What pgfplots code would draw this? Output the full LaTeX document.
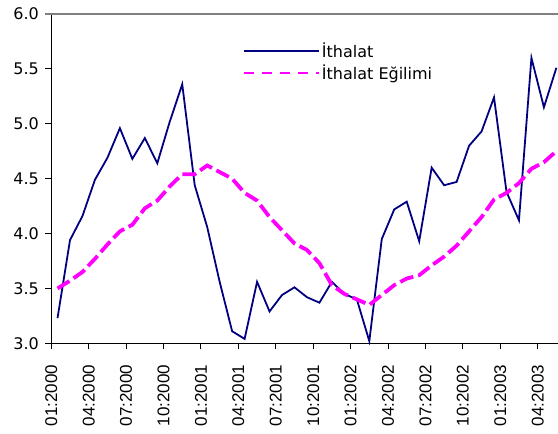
\documentclass[border=0pt]{standalone}
\usepackage{fontspec}
\setmainfont{DejaVu Sans}
\newfontfamily\arialfont{Liberation Sans}
\usepackage{pgfplots}
\pgfplotsset{compat=1.18}
\definecolor{importblue}{RGB}{0,0,128}
\definecolor{trendpink}{RGB}{255,0,255}
\begin{document}
\begin{tikzpicture}
\begin{axis}[
  scale only axis,
  width=506.7bp, height=329.3bp,
  xmin=-0.5, xmax=40.13, ymin=3, ymax=6,
  clip=false,
  axis x line*=bottom, axis y line*=left,
  axis line style={black, line width=1bp},
  xtick={-0.5,2.5,5.5,8.5,11.5,14.5,17.5,20.5,23.5,26.5,29.5,32.5,35.5,38.5},
  xticklabels={01:2000,04:2000,07:2000,10:2000,01:2001,04:2001,07:2001,10:2001,01:2002,04:2002,07:2002,10:2002,01:2003,04:2003},
  ytick={3.0,3.5,4.0,4.5,5.0,5.5,6.0},
  tick align=outside, major tick length=6bp,
  tick style={black, line width=1bp},
  yticklabel style={/pgf/number format/fixed, /pgf/number format/fixed zerofill,
    /pgf/number format/precision=1, /pgf/number format/assume math mode=true,
    font=\fontsize{16bp}{19bp}\selectfont, xshift=-3bp},
  xticklabel style={yshift=-12bp, rotate=90, anchor=east, font=\arialfont\fontsize{17bp}{20bp}\selectfont},
  legend style={at={(0.372,0.925)}, anchor=north west, draw=none, fill=none,
    font=\fontsize{16bp}{19bp}\selectfont, row sep=2bp,
    /tikz/every even column/.append style={column sep=7bp}},
  legend cell align=left,
  legend image code/.code={\draw[#1] (0bp,0bp) -- (75bp,0bp);},
]
% monthly imports
\addplot[importblue, line width=1.8bp] coordinates {
  (0,3.23) (1,3.94) (2,4.16) (3,4.49) (4,4.69) (5,4.96) (6,4.68) (7,4.87)
  (8,4.64) (9,5.02) (10,5.36) (11,4.44) (12,4.06) (13,3.56) (14,3.11) (15,3.04)
  (16,3.56) (17,3.29) (18,3.44) (19,3.51) (20,3.42) (21,3.37) (22,3.56) (23,3.45)
  (24,3.40) (25,3.02) (26,3.95) (27,4.22) (28,4.29) (29,3.93) (30,4.60) (31,4.44)
  (32,4.47) (33,4.80) (34,4.93) (35,5.24) (36,4.38) (37,4.12) (38,5.60) (39,5.15)
  (40,5.51)
};
\addlegendentry{İthalat}
% trend
\addplot[trendpink, line width=3.8bp, dash pattern=on 14bp off 5bp,
  legend image code/.code={\draw[trendpink, line width=2bp, dash pattern=on 10bp off 8bp] (0bp,0bp) -- (75bp,0bp);}]
  coordinates {
  (0,3.50) (1,3.57) (2,3.65) (3,3.77) (4,3.90) (5,4.02) (6,4.08) (7,4.23)
  (8,4.30) (9,4.43) (10,4.54) (11,4.54) (12,4.62) (13,4.56) (14,4.50) (15,4.37)
  (16,4.30) (17,4.15) (18,4.03) (19,3.91) (20,3.85) (21,3.73) (22,3.53) (23,3.45)
  (24,3.40) (25,3.35) (26,3.44) (27,3.53) (28,3.59) (29,3.62) (30,3.71) (31,3.79)
  (32,3.89) (33,4.02) (34,4.15) (35,4.31) (36,4.37) (37,4.46) (38,4.59) (39,4.65)
  (40,4.75)
};
\addlegendentry{İthalat Eğilimi}
% plot area top border
\draw[gray, line width=1.3bp] ([xshift=-6bp]rel axis cs:0,1) -- (rel axis cs:1,1);
\end{axis}
\pgfresetboundingbox
\path ([xshift=-51.3bp, yshift=-90.7bp]current axis.south west) rectangle ([yshift=14bp]current axis.north east);
\end{tikzpicture}
\end{document}
